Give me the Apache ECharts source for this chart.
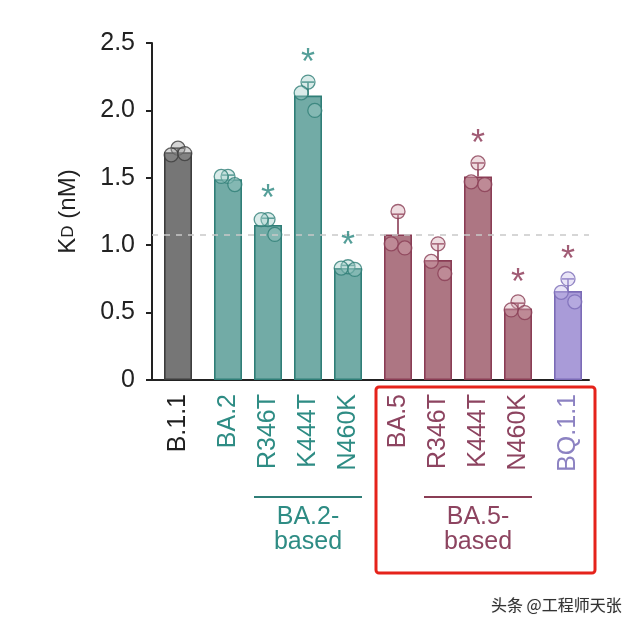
<!DOCTYPE html>
<html><head><meta charset="utf-8">
<script src="https://cdn.jsdelivr.net/npm/echarts@6/dist/echarts.min.js"></script>
<style>html,body{margin:0;padding:0;background:#fff}#c{width:640px;height:629px}</style>
</head><body><div id="c"></div>
<script>
// ---------- data ----------
const categories = ['B.1.1','BA.2','R346T','K444T','N460K','BA.5','R346T','K444T','N460K','BQ.1.1'];
const lineage    = ['B.1.1','BA.2','BA.2','BA.2','BA.2','BA.5','BA.5','BA.5','BA.5','BQ.1.1'];
const meanKD = [1.69, 1.49, 1.15, 2.11, 0.83, 1.08, 0.89, 1.51, 0.53, 0.66];
const sdKD   = [0.03, 0.03, 0.05, 0.10, 0.02, 0.15, 0.12, 0.10, 0.04, 0.09];
const rep1   = [1.72, 1.51, 1.19, 2.21, 0.84, 1.25, 1.01, 1.61, 0.58, 0.75];
const rep2   = [1.67, 1.51, 1.19, 2.13, 0.83, 1.01, 0.88, 1.47, 0.52, 0.65];
const rep3   = [1.68, 1.45, 1.08, 2.00, 0.82, 0.98, 0.79, 1.45, 0.50, 0.58];
const significant = [false, false, true, true, true, false, false, true, true, true];
const yTicks = [0, 0.5, 1.0, 1.5, 2.0, 2.5];
const referenceKD = 1.08;
const groupLabels = [
  { text: 'BA.2-\nbased', members: [2, 3, 4], lineage: 'BA.2' },
  { text: 'BA.5-\nbased', members: [6, 7, 8], lineage: 'BA.5' }
];
const watermark = '头条 @工程师天张';

// ---------- styles ----------
const palette = {
  'B.1.1':  { fill: '#767676', border: '#3d3d3d', dot: 'rgba(150,150,150,0.5)', text: '#1e1e1e', star: '#333' },
  'BA.2':   { fill: '#72aba6', border: '#2f7e77', dot: 'rgba(160,205,200,0.5)', text: '#2e8c84', star: '#2a8780' },
  'BA.5':   { fill: '#ad7683', border: '#8a3d55', dot: 'rgba(215,170,180,0.5)', text: '#8d4460', star: '#8a3352' },
  'BQ.1.1': { fill: '#a99bd8', border: '#7b6bb6', dot: 'rgba(200,190,235,0.5)', text: '#8c82c2', star: '#8a3352' }
};
const FONT = '"Liberation Sans", Arial, sans-serif';

// layout: slot positions with extra gap between lineage groups
const pos = [];
(function(){ let g = 0; for (let i = 0; i < categories.length; i++) { if (i > 0 && lineage[i] !== lineage[i-1]) g++; pos.push(i + 0.25 * g); } })();
const jitter = [0, -0.17, 0.17];
const reps = [rep1, rep2, rep3];
const lineageKeys = Object.keys(palette);
const keyOf = l => 'g' + lineageKeys.indexOf(l);

const rich = {};
lineageKeys.forEach(l => { rich[keyOf(l)] = { color: palette[l].text, fontSize: 25, fontFamily: FONT }; });

const chart = echarts.init(document.getElementById('c'), null, { renderer: 'canvas' });

const dotData = [];
reps.forEach((r, j) => r.forEach((v, i) => dotData.push({
  value: [pos[i] + jitter[j], v],
  itemStyle: { color: palette[lineage[i]].dot, borderColor: palette[lineage[i]].border, borderWidth: 1.3 }
})));

const starData = [];
categories.forEach((c, i) => { if (significant[i]) starData.push({
  value: [pos[i], Math.max(rep1[i], rep2[i], rep3[i], meanKD[i] + sdKD[i])],
  label: { color: palette[lineage[i]].star }
}); });

chart.setOption({
  animation: false,
  grid: { left: 152, right: 51, top: 43, bottom: 249, containLabel: false },
  xAxis: {
    type: 'value', min: -0.65, max: 10.275,
    axisLine: { show: true, onZero: false, lineStyle: { color: '#222', width: 2 } },
    axisTick: { show: false },
    splitLine: { show: false },
    axisLabel: {
      customValues: pos, rotate: 90, margin: 14,
      formatter: v => { const i = pos.findIndex(p => Math.abs(p - v) < 1e-6); return i < 0 ? '' : '{' + keyOf(lineage[i]) + '|' + categories[i] + '}'; },
      rich: rich
    }
  },
  yAxis: {
    type: 'value', min: 0, max: 2.5, interval: 0.5,
    axisLine: { show: true, onZero: false, lineStyle: { color: '#222', width: 2 } },
    axisTick: { show: true, length: 6, lineStyle: { color: '#222', width: 2 } },
    splitLine: { show: false },
    axisLabel: { customValues: yTicks, fontSize: 25, color: '#222', fontFamily: FONT, margin: 17,
      formatter: v => v === 0 ? '0' : v.toFixed(1) },
    name: '{k|K}{d|D}{k| (nM)}', nameLocation: 'middle', nameGap: 72, nameRotate: 90,
    nameTextStyle: { rich: { k: { fontSize: 24, color: '#222', fontFamily: FONT }, d: { fontSize: 17, color: '#222', fontFamily: FONT } } }
  },
  series: [
    { type: 'line', data: [], z: 1, silent: true,
      markLine: { silent: true, symbol: 'none', label: { show: false },
        lineStyle: { color: '#c9c9c9', type: [6, 6], width: 1.5 }, data: [{ yAxis: referenceKD }] } },
    { type: 'bar', z: 2, barWidth: 28,
      data: pos.map((p, i) => ({ value: [p, meanKD[i]], itemStyle: { color: palette[lineage[i]].fill, borderColor: palette[lineage[i]].border, borderWidth: 1.6 } })) },
    { type: 'custom', z: 3,
      data: pos.map((p, i) => [p, meanKD[i], meanKD[i] + sdKD[i], i]),
      renderItem: (params, api) => {
        const a = api.coord([api.value(0), api.value(1)]);
        const b = api.coord([api.value(0), api.value(2)]);
        const col = palette[lineage[api.value(3)]].border;
        return { type: 'group', children: [
          { type: 'line', shape: { x1: a[0], y1: a[1], x2: b[0], y2: b[1] }, style: { stroke: col, lineWidth: 1.6 } },
          { type: 'line', shape: { x1: b[0] - 6, y1: b[1], x2: b[0] + 6, y2: b[1] }, style: { stroke: col, lineWidth: 1.6 } }
        ] };
      } },
    { type: 'scatter', z: 4, symbol: 'circle', symbolSize: 14, data: dotData },
    { type: 'scatter', z: 5, symbolSize: 0, data: starData,
      label: { show: true, formatter: '*', position: 'inside', offset: [0, -18], fontSize: 36, fontFamily: FONT } }
  ]
});

// annotations computed from the axis scales
const px = (x, y) => chart.convertToPixel({ gridIndex: 0 }, [x, y]);
const graphics = [];
groupLabels.forEach(g => {
  const x1 = px(pos[g.members[0]], 0)[0] - 14;
  const x2 = px(pos[g.members[g.members.length - 1]], 0)[0] + 14;
  const col = palette[g.lineage].text;
  graphics.push({ type: 'line', shape: { x1: x1, y1: 497, x2: x2, y2: 497 }, style: { stroke: palette[g.lineage].border, lineWidth: 2 } });
  graphics.push({ type: 'text', x: (x1 + x2) / 2, y: 505, style: { text: g.text, fill: col, font: '25px ' + FONT, textAlign: 'center', textVerticalAlign: 'top', lineHeight: 25 } });
});
const bx1 = px(pos[5], 0)[0] - 22, bx2 = px(pos[9], 0)[0] + 27;
graphics.push({ type: 'rect', shape: { x: bx1, y: 387, width: bx2 - bx1, height: 186, r: 3 }, style: { fill: 'none', stroke: '#e5231b', lineWidth: 3 } });
graphics.push({ type: 'text', x: 491, y: 605, style: { text: watermark, fill: '#333', font: '16px "Noto Sans CJK SC"', textVerticalAlign: 'middle', textShadowColor: 'rgba(0,0,0,0.25)', textShadowBlur: 1 } });
chart.setOption({ graphic: graphics });
</script></body></html>
